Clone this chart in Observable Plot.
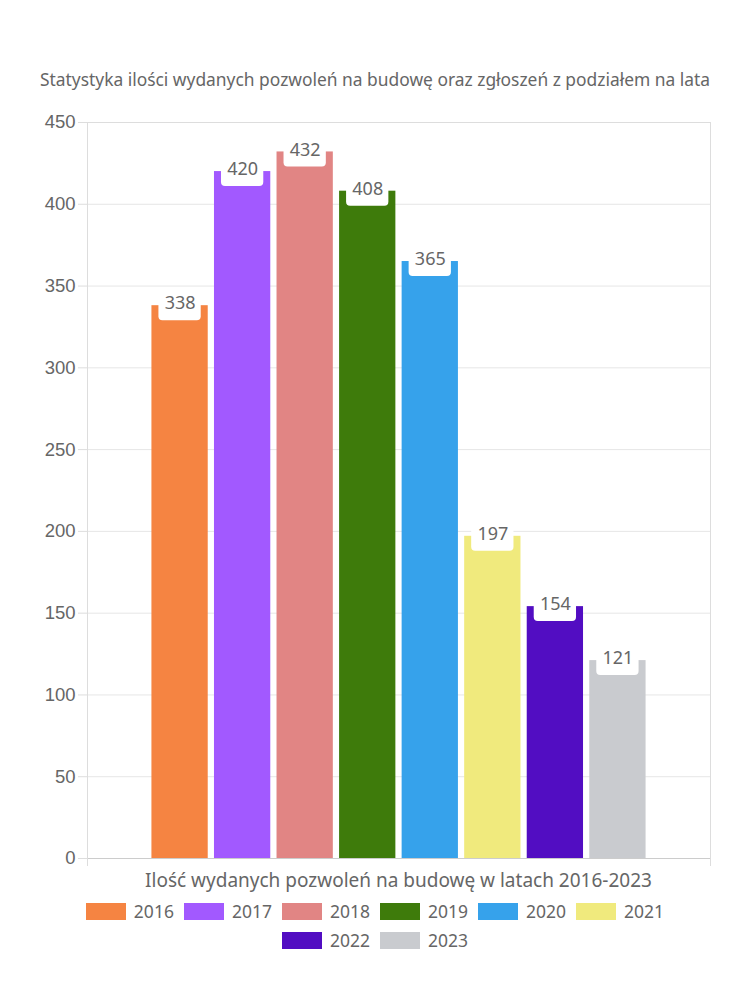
<!DOCTYPE html>
<html><head><meta charset="utf-8">
<script src="https://cdn.jsdelivr.net/npm/d3@7"></script>
<script src="https://cdn.jsdelivr.net/npm/@observablehq/plot@0.6"></script>
<style>
body{margin:0;background:#fff;}
#wrap{position:relative;width:750px;height:1000px;font-family:"Noto Sans",sans-serif;color:#666;}
#title{position:absolute;top:67px;left:0;width:750px;text-align:center;font-size:17.4px;padding-left:0;}
#chart{position:absolute;top:100px;left:0;}
#legend{position:absolute;top:902px;left:65px;width:620px;display:flex;flex-wrap:wrap;justify-content:center;row-gap:11px;}
.item{display:flex;align-items:center;margin:0 5px;font-size:17.5px;color:#666;height:18px;}
.sw{width:40px;height:17px;margin-right:8px;}
</style>
</head><body>
<div id="wrap">
<div id="title">Statystyka ilości wydanych pozwoleń na budowę oraz zgłoszeń z podziałem na lata</div>
<div id="chart"></div>
<div id="legend"></div>
</div>
<script>
const years = ["2016","2017","2018","2019","2020","2021","2022","2023"];
const permits = [338, 420, 432, 408, 365, 197, 154, 121];
const colors = ["#f58442","#a259ff","#e18584","#3e7b0b","#36a2eb","#f0ea7d","#520dc2","#c9cbcf"];
const yTicks = [0,50,100,150,200,250,300,350,400,450];
const xTitle = "Ilość wydanych pozwoleń na budowę w latach 2016-2023";

const data = years.map((y,i)=>({year:y, value:permits[i]}));

const W = 750, H = 800, mL = 87, mR = 40, mT = 22, mB = 42;

const edgeTicks = (index, scales, values, dims) => {
  const g = d3.create("svg:g");
  const yb = dims.height - dims.marginBottom;
  for (const x of [dims.marginLeft + 0.5, dims.width - dims.marginRight + 0.5]) {
    g.append("line").attr("x1", x).attr("x2", x).attr("y1", yb).attr("y2", yb + 8)
      .attr("stroke", "#ddd");
  }
  g.append("text").attr("x", (dims.marginLeft + dims.width - dims.marginRight)/2)
    .attr("y", yb + 29).attr("text-anchor","middle").attr("fill","#666")
    .attr("font-size", 19).attr("font-family","'Noto Sans',sans-serif").text(xTitle);
  return g.node();
};

const chart = Plot.plot({
  width: W, height: H,
  marginLeft: mL, marginRight: mR, marginTop: mT, marginBottom: mB,
  style: {fontFamily: "'Liberation Sans', sans-serif", background: "#fff"},
  x: {domain: years, paddingInner: 0.1, paddingOuter: 1.03, round: false, axis: null},
  y: {domain: [0, 450], ticks: yTicks},
  color: {domain: years, range: colors},
  marks: [
    Plot.ruleY(yTicks, {stroke: "#e6e6e6"}),
    Plot.frame({stroke: "#ddd"}),
    Plot.axisY(yTicks, {tickSize: 9, tickPadding: 3, stroke: "#ddd", fill: "#666", fontSize: 18.5, label: null, tickFormat: d => d}),
    Plot.barY(data, {x: "year", y: "value", fill: "year"}),
    Plot.ruleY([0], {stroke: "#ccc"}),
    Plot.barY(data, {x: "year", y1: "value", y2: "value", fill: "white", insetTop: -14, insetBottom: -15, insetLeft: 7, insetRight: 7, rx: 4}),
    Plot.text(data, {x: "year", y: "value", text: d => String(d.value), dy: -2, fill: "#666", fontSize: 18, fontFamily: "'Noto Sans', sans-serif"}),
    edgeTicks
  ]
});
document.getElementById("chart").appendChild(chart);

const leg = document.getElementById("legend");
years.forEach((y,i)=>{
  const it = document.createElement("div"); it.className = "item";
  const sw = document.createElement("div"); sw.className = "sw"; sw.style.background = colors[i];
  const t = document.createElement("span"); t.textContent = y;
  it.appendChild(sw); it.appendChild(t); leg.appendChild(it);
});
</script>
</body></html>
